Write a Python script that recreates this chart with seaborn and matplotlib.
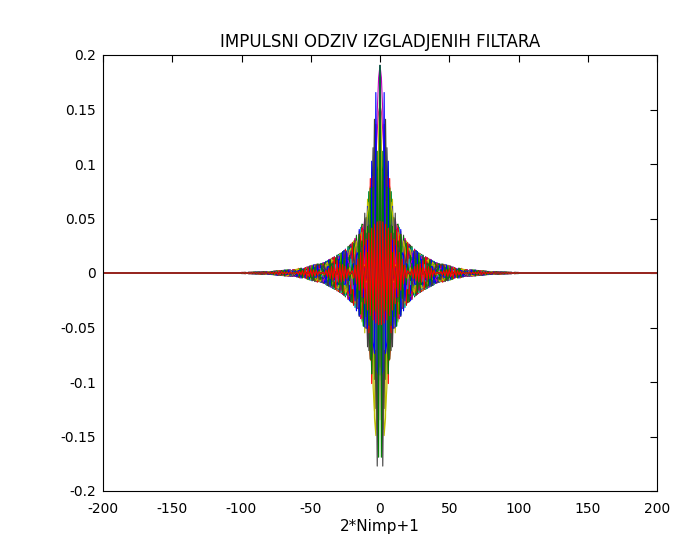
import numpy as np
import pandas as pd
import matplotlib
matplotlib.use("Agg")
import matplotlib.pyplot as plt
import seaborn as sns
from matplotlib.ticker import FuncFormatter

# ---- data (filter bank parameters) ----
bank_sizes = [32, 24, 16, 10, 6.5, 5.25]  # number of equal bands in each bank
nimp = 100                               # half length of impulse response
n_min, n_max = -200, 200
xticks = [-200, -150, -100, -50, 0, 50, 100, 150, 200]
yticks = [-0.2, -0.15, -0.1, -0.05, 0, 0.05, 0.1, 0.15, 0.2]
title = "IMPULSNI ODZIV IZGLADJENIH FILTARA"
xlabel = "2*Nimp+1"
line_colors = ["#0000ff", "#008000", "#ff0000", "#00bfbf", "#bf00bf", "#bfbf00", "#404040"]
color_offset = 6

# ---- build impulse responses (windowed ideal band-pass filters) ----
n = np.arange(n_min, n_max + 1)
frames = []
fid = 0
for K in bank_sizes:
    nb = int(np.ceil(K))
    for k in range(nb):
        w1 = k * np.pi / K
        w2 = min((k + 1) * np.pi / K, np.pi)
        h = np.zeros(n.size)
        m = np.abs(n) <= nimp
        nn = n[m]
        safe = np.where(nn == 0, 1, nn)
        ideal = np.where(nn == 0, (w2 - w1) / np.pi,
                         (np.sin(w2 * safe) - np.sin(w1 * safe)) / (np.pi * safe))
        win = 0.54 + 0.46 * np.cos(np.pi * nn / nimp)
        h[m] = ideal * win
        frames.append(pd.DataFrame({"n": n, "h": h, "fid": fid}))
        fid += 1
df = pd.concat(frames, ignore_index=True)
palette = {i: line_colors[(i + color_offset) % len(line_colors)] for i in range(fid)}

# ---- plot ----
sns.set_style("white")
plt.rcParams["font.family"] = ["DejaVu Sans"]
plt.rcParams["text.color"] = "black"
plt.rcParams["axes.labelcolor"] = "black"
fig = plt.figure(figsize=(6.73, 5.43), dpi=100)
ax = fig.add_axes([103 / 673, 52 / 543, 554 / 673, 436 / 543])
sns.lineplot(data=df, x="n", y="h", hue="fid", palette=palette, legend=False,
             estimator=None, sort=False, linewidth=0.8, ax=ax)
ax.set_xlim(n_min, n_max)
ax.set_ylim(-0.2, 0.2)
ax.set_xticks(xticks)
ax.set_yticks(yticks)
ax.xaxis.set_major_formatter(FuncFormatter(lambda v, p: f"{v:g}"))
ax.yaxis.set_major_formatter(FuncFormatter(lambda v, p: f"{v:g}"))
ax.tick_params(direction="in", length=5, width=0.8, top=True, right=True,
               labelsize=10, colors="black")
ax.tick_params(axis="x", pad=8)
ax.tick_params(axis="y", pad=5)
for s in ax.spines.values():
    s.set_color("black")
    s.set_linewidth(0.8)
ax.set_title(title, fontsize=12, pad=6, color="black")
ax.set_xlabel(xlabel, fontsize=11, labelpad=2, color="black")
ax.set_ylabel("")
fig.savefig("out.png", dpi=100, facecolor="white")
